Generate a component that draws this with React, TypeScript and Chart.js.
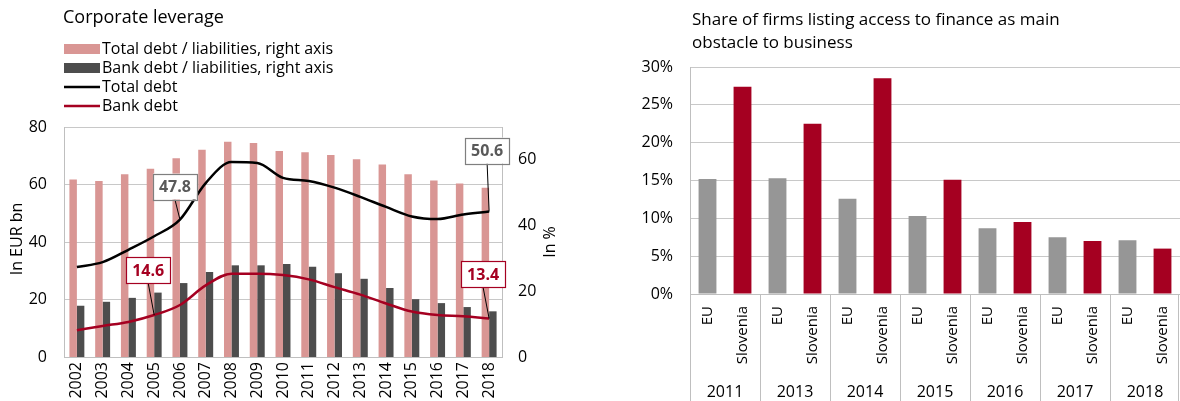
import React, { useEffect, useRef } from 'react';
import { Chart, registerables } from 'chart.js';

Chart.register(...registerables);

// ---------- Left chart data ----------
const years = ['2002', '2003', '2004', '2005', '2006', '2007', '2008', '2009', '2010', '2011', '2012', '2013', '2014', '2015', '2016', '2017', '2018'];
const totalDebtRatio = [54.0, 53.6, 55.6, 57.3, 60.5, 63.1, 65.5, 65.1, 62.7, 62.3, 61.5, 60.2, 58.6, 55.6, 53.7, 52.8, 51.5];
const bankDebtRatio = [15.6, 16.8, 18.0, 19.6, 22.5, 25.9, 27.9, 27.9, 28.3, 27.5, 25.5, 23.8, 21.0, 17.6, 16.4, 15.2, 13.9];
const totalDebt = [31.3, 33.0, 37.3, 42.0, 47.8, 60.5, 67.8, 67.5, 62.3, 61.2, 58.9, 55.7, 52.2, 48.9, 48.0, 49.6, 50.6];
const bankDebt = [9.3, 10.8, 12.2, 14.6, 18.1, 24.9, 29.0, 29.0, 28.5, 27.0, 24.3, 21.7, 18.6, 15.8, 14.6, 14.2, 13.4];
const leftTicks = [0, 20, 40, 60, 80];
const rightTicks = [0, 20, 40, 60];

// ---------- Right chart data ----------
const surveyYears = ['2011', '2013', '2014', '2015', '2016', '2017', '2018'];
const groupNames = ['EU', 'Slovenia'];
const euShare = [15.2, 15.3, 12.6, 10.3, 8.7, 7.5, 7.1];
const sloveniaShare = [27.4, 22.5, 28.5, 15.1, 9.5, 7.0, 6.0];
const shareTicks = [0, 5, 10, 15, 20, 25, 30];

const FONT = "'Open Sans', 'Noto Sans', sans-serif";
const TEXT = '#000000';
const PINK = '#D99694';
const DARK = '#4D4D4D';
const RED = '#A50021';
const GREY = '#969696';
const GRID = '#C8C8C8';
const AXIS = '#BFBFBF';

Chart.defaults.font.family = FONT;
Chart.defaults.color = TEXT;

// callouts: dataset index, data index, box offset from point
const callouts = [
  { ds: 2, idx: 4, dx: -5, dy: -33, color: '#595959', border: '#7F7F7F' },
  { ds: 3, idx: 3, dx: -6, dy: -45, color: RED, border: RED },
  { ds: 2, idx: 16, dx: -2, dy: -61, color: '#595959', border: '#7F7F7F' },
  { ds: 3, idx: 16, dx: -6, dy: -44, color: RED, border: RED },
];

const leftDecor = {
  id: 'leftDecor',
  afterDatasetsDraw(chart: any) {
    const ctx = chart.ctx;
    ctx.save();
    callouts.forEach((c) => {
      const pt = chart.getDatasetMeta(c.ds).data[c.idx];
      const value = chart.data.datasets[c.ds].data[c.idx];
      const cx = pt.x + c.dx;
      const cy = pt.y + c.dy;
      const w = 44;
      const h = 26;
      ctx.strokeStyle = '#000';
      ctx.lineWidth = 1;
      ctx.beginPath();
      ctx.moveTo(cx, cy + h / 2);
      ctx.lineTo(pt.x, pt.y);
      ctx.stroke();
      ctx.fillStyle = '#fff';
      ctx.fillRect(cx - w / 2, cy - h / 2, w, h);
      ctx.strokeStyle = c.border;
      ctx.lineWidth = 1.2;
      ctx.strokeRect(Math.round(cx - w / 2) + 0.5, Math.round(cy - h / 2) + 0.5, w, h);
      ctx.fillStyle = c.color;
      ctx.font = `bold 16px ${FONT}`;
      ctx.textAlign = 'center';
      ctx.textBaseline = 'middle';
      ctx.fillText(Number(value).toFixed(1), cx, cy + 1);
    });
    ctx.restore();
  },
  afterDraw(chart: any) {
    const ctx = chart.ctx;
    const area = chart.chartArea;
    ctx.save();
    ctx.fillStyle = TEXT;
    ctx.textBaseline = 'middle';
    ctx.textAlign = 'left';
    ctx.font = `18px ${FONT}`;
    ctx.fillText('Corporate leverage', 63, 18);

    const rows = [49, 68, 87, 106];
    ctx.font = `16px ${FONT}`;
    chart.data.datasets.forEach((ds: any, i: number) => {
      const y = rows[i];
      if (ds.type === 'line') {
        ctx.strokeStyle = ds.borderColor;
        ctx.lineWidth = 2.5;
        ctx.beginPath();
        ctx.moveTo(64, y);
        ctx.lineTo(100, y);
        ctx.stroke();
      } else {
        ctx.fillStyle = ds.backgroundColor;
        ctx.fillRect(64, y - 5, 36, 10);
      }
      ctx.fillStyle = TEXT;
      ctx.fillText(ds.label, 102, y);
    });

    // axis titles (both read bottom-to-top)
    const midY = (area.top + area.bottom) / 2;
    ctx.font = `16px ${FONT}`;
    ctx.textAlign = 'center';
    ctx.save();
    ctx.translate(17, midY - 3);
    ctx.rotate(-Math.PI / 2);
    ctx.fillText('In EUR bn', 0, 0);
    ctx.restore();
    ctx.save();
    ctx.translate(550, midY);
    ctx.rotate(-Math.PI / 2);
    ctx.fillText('In %', 0, 0);
    ctx.restore();
    ctx.restore();
  },
};

const rightDecor = {
  id: 'rightDecor',
  afterDraw(chart: any) {
    const ctx = chart.ctx;
    const x = chart.scales.x;
    const area = chart.chartArea;
    const n = x.ticks.length;
    const cw = (x.right - x.left) / n;
    const per = groupNames.length;
    ctx.save();
    ctx.strokeStyle = AXIS;
    ctx.lineWidth = 1;
    for (let k = 0; k <= surveyYears.length; k++) {
      const bx = Math.min(Math.round(x.left + k * per * cw) + 0.5, chart.width - 1.5);
      ctx.beginPath();
      ctx.moveTo(bx, area.bottom);
      ctx.lineTo(bx, chart.height);
      ctx.stroke();
    }
    ctx.fillStyle = TEXT;
    ctx.font = `16px ${FONT}`;
    ctx.textAlign = 'center';
    ctx.textBaseline = 'middle';
    surveyYears.forEach((yr, k) => {
      const cx = x.left + (k * per + per / 2) * cw;
      ctx.fillText(yr, cx, 392);
    });
    ctx.textAlign = 'left';
    ctx.font = `17px ${FONT}`;
    ctx.fillText('Share of firms listing access to finance as main', 92, 20);
    ctx.fillText('obstacle to business', 92, 43);
    ctx.restore();
  },
};

export default function App() {
  const leftRef = useRef<HTMLCanvasElement>(null);
  const rightRef = useRef<HTMLCanvasElement>(null);

  useEffect(() => {
    const numFont = { family: FONT, size: 16 };
    const catFont = { family: FONT, size: 15 };

    const left = new Chart(leftRef.current as HTMLCanvasElement, {
      type: 'bar',
      data: {
        labels: years,
        datasets: [
          {
            type: 'bar',
            label: 'Total debt / liabilities, right axis',
            data: totalDebtRatio,
            backgroundColor: PINK,
            yAxisID: 'y1',
            order: 2,
            categoryPercentage: 0.58,
            barPercentage: 1,
          },
          {
            type: 'bar',
            label: 'Bank debt / liabilities, right axis',
            data: bankDebtRatio,
            backgroundColor: DARK,
            yAxisID: 'y1',
            order: 2,
            categoryPercentage: 0.58,
            barPercentage: 1,
          },
          {
            type: 'line',
            label: 'Total debt',
            data: totalDebt,
            borderColor: '#000000',
            backgroundColor: '#000000',
            borderWidth: 2.5,
            pointRadius: 0,
            cubicInterpolationMode: 'monotone',
            yAxisID: 'y',
            order: 0,
          },
          {
            type: 'line',
            label: 'Bank debt',
            data: bankDebt,
            borderColor: RED,
            backgroundColor: RED,
            borderWidth: 2.5,
            pointRadius: 0,
            cubicInterpolationMode: 'monotone',
            yAxisID: 'y',
            order: 1,
          },
        ] as any,
      },
      options: {
        animation: false,
        responsive: false,
        maintainAspectRatio: false,
        layout: { padding: { top: 127, left: 0, right: 0, bottom: 0 } },
        plugins: { legend: { display: false }, tooltip: { enabled: false }, title: { display: false } },
        scales: {
          x: {
            grid: { display: false, drawTicks: false },
            border: { color: AXIS },
            ticks: { minRotation: 90, maxRotation: 90, padding: 5, font: numFont, color: TEXT, autoSkip: false },
            afterFit: (s: any) => { s.height = 44; s.paddingLeft = 0; s.paddingRight = 0; },
          },
          y: {
            position: 'left',
            min: 0,
            max: 80,
            afterBuildTicks: (s: any) => { s.ticks = leftTicks.map((v) => ({ value: v })); },
            grid: { color: GRID, drawTicks: false },
            border: { color: AXIS },
            ticks: { padding: 17, font: numFont, color: TEXT },
            afterFit: (s: any) => { s.width = 64; },
          },
          y1: {
            position: 'right',
            min: 0,
            max: 70,
            afterBuildTicks: (s: any) => { s.ticks = rightTicks.map((v) => ({ value: v })); },
            grid: { display: false, drawTicks: false },
            border: { color: AXIS },
            ticks: { padding: 16, font: numFont, color: TEXT },
            afterFit: (s: any) => { s.width = 73; },
          },
        },
      } as any,
      plugins: [leftDecor],
    });

    const catLabels: string[] = [];
    const euData: (number | null)[] = [];
    const sloData: (number | null)[] = [];
    surveyYears.forEach((_, k) => {
      catLabels.push(groupNames[0], groupNames[1]);
      euData.push(euShare[k], null);
      sloData.push(null, sloveniaShare[k]);
    });

    const right = new Chart(rightRef.current as HTMLCanvasElement, {
      type: 'bar',
      data: {
        labels: catLabels,
        datasets: [
          { label: 'EU', data: euData, backgroundColor: GREY, grouped: false, barPercentage: 0.51, categoryPercentage: 1 },
          { label: 'Slovenia', data: sloData, backgroundColor: RED, grouped: false, barPercentage: 0.51, categoryPercentage: 1 },
        ] as any,
      },
      options: {
        animation: false,
        responsive: false,
        maintainAspectRatio: false,
        layout: { padding: { top: 67, left: 0, right: 0, bottom: 0 } },
        plugins: { legend: { display: false }, tooltip: { enabled: false } },
        scales: {
          x: {
            grid: { display: false, drawTicks: false },
            border: { color: AXIS },
            ticks: { minRotation: 90, maxRotation: 90, padding: 12, font: catFont, color: TEXT, autoSkip: false },
            afterFit: (s: any) => { s.height = 107; s.paddingLeft = 0; s.paddingRight = 0; },
          },
          y: {
            min: 0,
            max: 30,
            afterBuildTicks: (s: any) => { s.ticks = shareTicks.map((v) => ({ value: v })); },
            grid: { color: GRID, drawTicks: false },
            border: { color: AXIS },
            ticks: { padding: 17, font: numFont, color: TEXT, callback: (v: any) => `${v}%` },
            afterFit: (s: any) => { s.width = 90; },
          },
        },
      } as any,
      plugins: [rightDecor],
    });

    return () => {
      left.destroy();
      right.destroy();
    };
  }, []);

  return (
    <div style={{ position: 'absolute', left: 0, top: 0, width: 1180, height: 401, background: '#ffffff' }}>
      <canvas ref={leftRef} width={575} height={401} style={{ position: 'absolute', left: 0, top: 0 }} />
      <canvas ref={rightRef} width={580} height={401} style={{ position: 'absolute', left: 600, top: 0 }} />
    </div>
  );
}
